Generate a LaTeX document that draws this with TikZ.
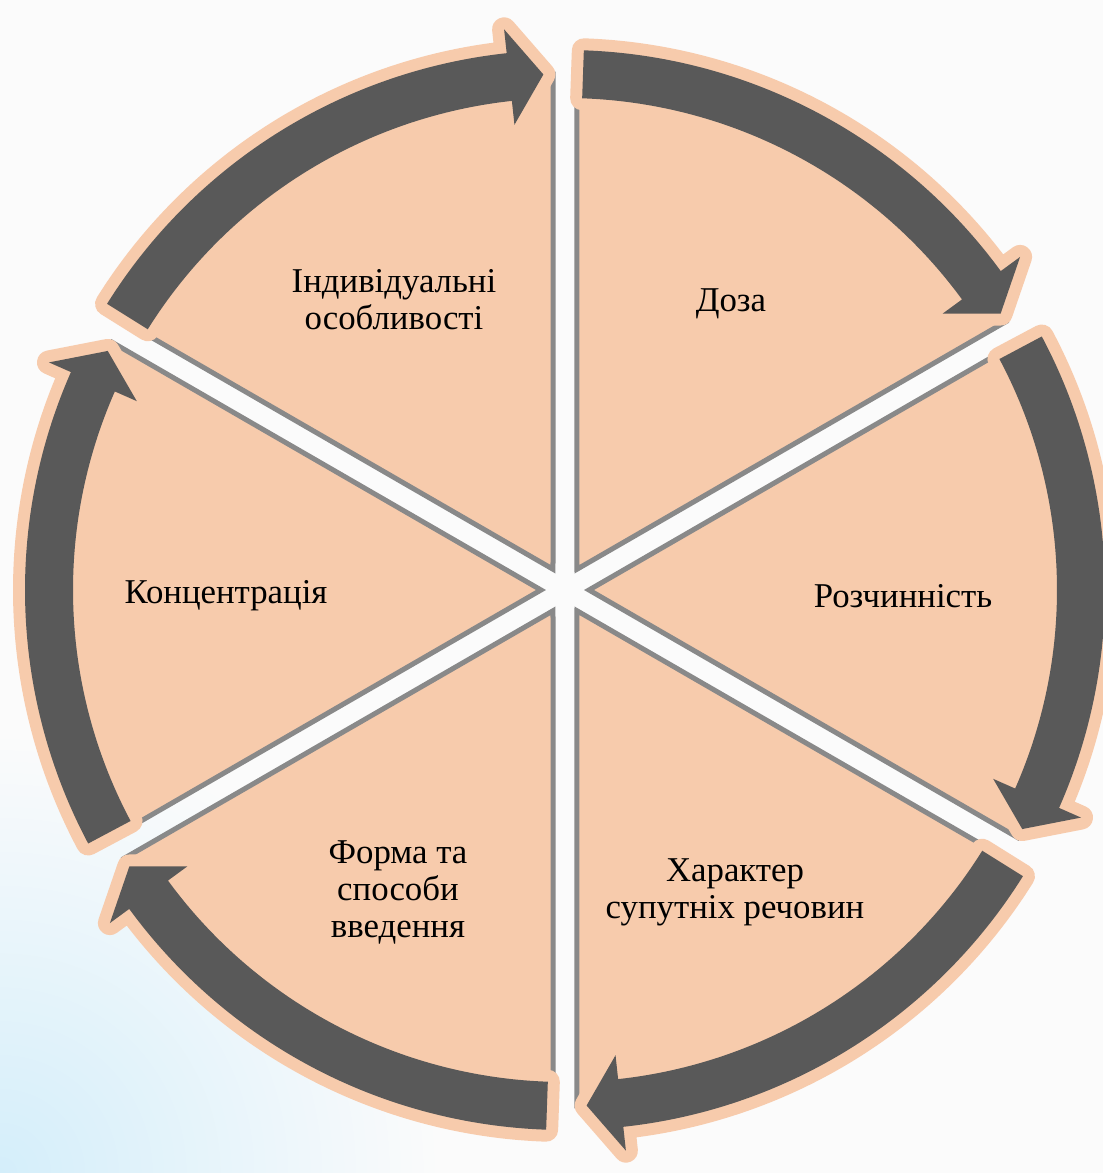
\documentclass[tikz,border=0pt]{standalone}
\usepackage{fontspec}
\setmainfont{Liberation Serif}
\definecolor{sector-peach}{RGB}{247,203,172}
\definecolor{arrow-gray}{RGB}{89,89,89}
\definecolor{edge-gray}{RGB}{137,137,137}
\definecolor{slide-white}{RGB}{251,251,251}
\definecolor{slide-blue}{RGB}{212,238,250}
\tikzset{
    sector-wedge/.style = {fill=sector-peach, draw=edge-gray, line width=2.5pt},
    cycle-arrow/.style = {fill=arrow-gray, preaction={draw=sector-peach, line width=12pt, line join=round}},
    sector-label/.style = {align=center, font=\fontsize{17.4}{18.5}\selectfont, text=black},
}

\begin{document}
\begin{tikzpicture}[x=0.5pt, y=0.5pt]
\useasboundingbox (-565,-583) rectangle (538,590);
% slide background
\fill[slide-white] (-565,-583) rectangle (538,590);
\begin{scope}
\clip (-565,-583) rectangle (538,590);
\shade[inner color=slide-blue, outer color=slide-white] (-565,-583) circle (440);
\end{scope}

% wedges first, arrows on their rims after
\foreach \a in {90,30,-30,-90,-150,-210} {
    \draw[sector-wedge] (\a-30:24) -- (\a-1.33:516) arc[start angle=\a-1.33, end angle=\a-58.67, radius=516] -- cycle;
}
\foreach \a in {90,30,-30,-90,-150,-210} {
    \path[cycle-arrow] (\a-2:540) arc[start angle=\a-2, end angle=\a-53.8, radius=540]
        -- (\a-53.8:564) -- (\a-57.6:516) -- (\a-53.8:468) -- (\a-53.8:492)
        arc[start angle=\a-53.8, end angle=\a-2, radius=492] -- cycle;
}

\node[sector-label] (dose) at (166,286) {Доза};
\node[sector-label] (solubility) at (338,-6) {Розчинність};
\node[sector-label] (impurities) at (170,-302) {Характер\\супутніх речовин};
\node[sector-label] (form) at (-167,-302) {Форма та\\способи\\введення};
\node[sector-label] (concentration) at (-339,-6) {Концентрація};
\node[sector-label] (individual) at (-171,290) {Індивідуальні\\особливості};
\end{tikzpicture}
\end{document}
